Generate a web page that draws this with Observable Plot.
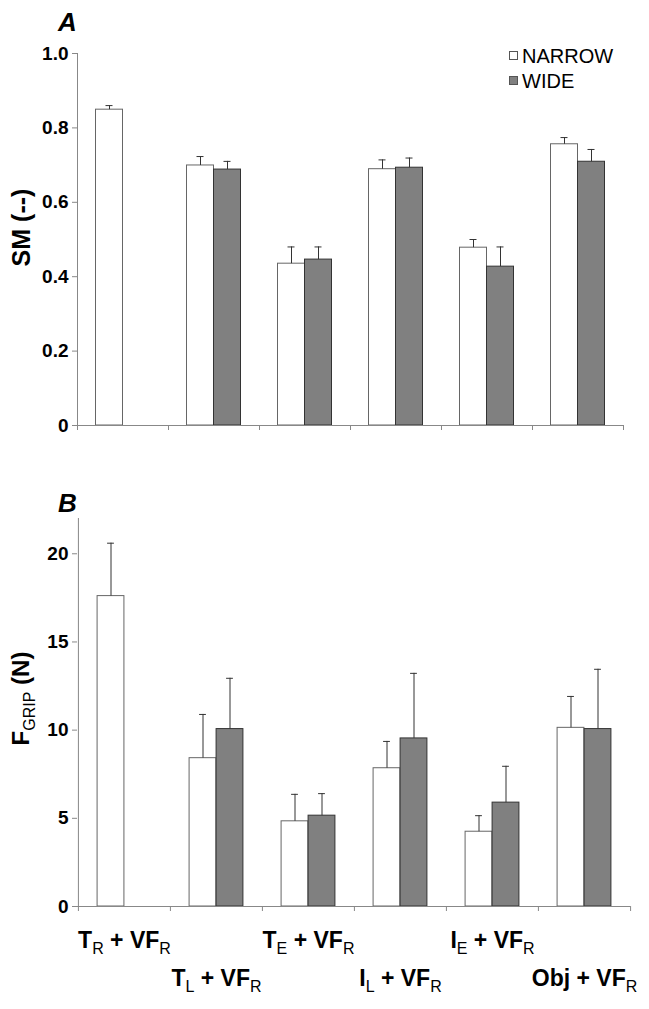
<!DOCTYPE html>
<html><head><meta charset="utf-8">
<script src="https://cdn.jsdelivr.net/npm/d3@7"></script>
<script src="https://cdn.jsdelivr.net/npm/@observablehq/plot@0.6"></script>
<style>
body{margin:0;background:#fff;font-family:"Liberation Sans",Arial,sans-serif;}
#chart{position:relative;width:649px;height:1009px;background:#fff;}
#chart svg{display:block;}
.legend{position:absolute;left:509px;top:44px;font-size:20px;line-height:25px;color:#000;}
.legend div{white-space:nowrap;}
.legend .sw{display:inline-block;width:7px;height:7px;border:1px solid #555;margin-right:4px;vertical-align:middle;position:relative;top:-2px;}
</style></head><body><div id="chart"></div>
<script>
const categories = ["T_{R} + VF_{R}", "T_{L} + VF_{R}", "T_{E} + VF_{R}", "I_{L} + VF_{R}", "I_{E} + VF_{R}", "Obj + VF_{R}"];
const series = ["NARROW", "WIDE"];
const smNarrow = [0.849, 0.699, 0.435, 0.689, 0.478, 0.756];
const smNarrowErr = [0.011, 0.024, 0.045, 0.025, 0.022, 0.018];
const smWide = [null, 0.688, 0.446, 0.693, 0.427, 0.709];
const smWideErr = [null, 0.022, 0.034, 0.026, 0.053, 0.033];
const gripNarrow = [17.6, 8.41, 4.83, 7.84, 4.24, 10.13];
const gripNarrowErr = [3.0, 2.48, 1.53, 1.52, 0.91, 1.78];
const gripWide = [null, 10.06, 5.15, 9.53, 5.89, 10.06];
const gripWideErr = [null, 2.88, 1.25, 3.69, 2.06, 3.39];
const smTicks = [0, 0.2, 0.4, 0.6, 0.8, 1.0];
const gripTicks = [0, 5, 10, 15, 20];

const FONT = "Liberation Sans, Arial, sans-serif";
const SVGNS = "http://www.w3.org/2000/svg";

function subscriptify(svg) {
  svg.querySelectorAll("text").forEach(t => {
    const s = t.textContent;
    if (!s.includes("_{")) return;
    const fs = parseFloat(getComputedStyle(t).fontSize) || 20;
    const subSize = Math.round(fs * 0.68);
    const shift = Math.round(fs * 0.25);
    const parts = s.split(/(_\{[^}]*\})/);
    while (t.firstChild) t.removeChild(t.firstChild);
    let shifted = false;
    for (const p of parts) {
      if (!p) continue;
      const ts = document.createElementNS(SVGNS, "tspan");
      if (p.startsWith("_{")) {
        ts.textContent = p.slice(2, -1);
        ts.setAttribute("font-size", subSize);
        ts.setAttribute("font-weight", "normal");
        ts.setAttribute("dy", shift);
        shifted = true;
      } else {
        ts.textContent = p;
        if (shifted) { ts.setAttribute("dy", -shift); shifted = false; }
      }
      t.appendChild(ts);
    }
  });
}

function panel(o) {
  const {values, errs, yDomain, yTicks, yFormat, yLabel, labelSize, labelDy, letter, letterDy, width, height, mt, mb, ml, mr, showLabels} = o;
  const rows = [];
  categories.forEach((c, i) => series.forEach((s, j) => {
    const v = values[j][i];
    if (v != null) rows.push({cat: c, series: s, value: v, top: v + errs[j][i]});
  }));
  const step = (width - ml - mr) / categories.length;
  const bw = 27, cap = 3.5;
  const marks = [];
  series.forEach((s, j) => {
    const data = rows.filter(d => d.series === s);
    const off = j === 0 ? -bw / 2 : bw / 2;
    marks.push(Plot.barY(data, {
      x: "cat", y: "value",
      insetLeft: j === 0 ? step / 2 - bw : step / 2,
      insetRight: j === 0 ? step / 2 : step / 2 - bw,
      fill: j === 0 ? "#ffffff" : "#808080",
      stroke: j === 0 ? "#666" : "#333", strokeWidth: 1
    }));
    marks.push(Plot.ruleX(data, {x: "cat", y1: "value", y2: "top", dx: off, stroke: "#333", strokeWidth: 1}));
    marks.push(Plot.tickY(data, {x: "cat", y: "top", insetLeft: step / 2 + off - cap, insetRight: step / 2 - off - cap, stroke: "#333", strokeWidth: 1}));
  });
  marks.push(Plot.ruleY([yDomain[0]], {stroke: "#888"}));
  marks.push(Plot.ruleX([categories[0]], {dx: -step / 2, stroke: "#888"}));
  marks.push(Plot.axisY({ticks: yTicks, tickFormat: yFormat, tickSize: 5, tickPadding: 4, fontSize: 19, fontWeight: "bold", stroke: "#888", fill: "#000", label: null}));
  marks.push(Plot.axisX({ticks: categories, tickFormat: () => "", tickSize: 5, dx: -step / 2, stroke: "#888", label: null}));
  marks.push(Plot.axisX({ticks: [categories[categories.length - 1]], tickFormat: () => "", tickSize: 5, dx: step / 2, stroke: "#888", label: null}));
  if (showLabels) {
    marks.push(Plot.axisX({ticks: categories.filter((_, i) => i % 2 === 0), tickSize: 0, tickPadding: 25, fontSize: 23, fontWeight: "bold", fill: "#000", label: null}));
    marks.push(Plot.axisX({ticks: categories.filter((_, i) => i % 2 === 1), tickSize: 0, tickPadding: 63, fontSize: 23, fontWeight: "bold", fill: "#000", label: null}));
  }
  marks.push(Plot.text([yLabel], {frameAnchor: "left", textAnchor: "middle", lineAnchor: "middle", dx: -56, dy: labelDy, rotate: -90, fontSize: labelSize, fontWeight: "bold", fill: "#000"}));
  marks.push(Plot.text([letter], {frameAnchor: "top-left", dx: -10, dy: letterDy, fontSize: 26, fontWeight: "bold", fontStyle: "italic", textAnchor: "middle", lineAnchor: "middle", fill: "#000"}));
  return Plot.plot({
    width, height, marginTop: mt, marginBottom: mb, marginLeft: ml, marginRight: mr,
    style: {fontFamily: FONT, background: "#fff", color: "#000", overflow: "visible"},
    x: {type: "band", domain: categories, padding: 0},
    y: {domain: yDomain},
    marks
  });
}

const chart = document.getElementById("chart");
const panelA = panel({
  values: [smNarrow, smWide], errs: [smNarrowErr, smWideErr],
  yDomain: [0, 1], yTicks: smTicks, yFormat: d => d === 0 ? "0" : d.toFixed(1),
  yLabel: "SM (--)", labelSize: 25, labelDy: -12, letter: "A", letterDy: -31,
  width: 649, height: 470, mt: 53, mb: 45, ml: 77, mr: 26, showLabels: false
});
const panelB = panel({
  values: [gripNarrow, gripWide], errs: [gripNarrowErr, gripWideErr],
  yDomain: [0, 22], yTicks: gripTicks, yFormat: d => String(d),
  yLabel: "F_{GRIP} (N)", labelSize: 24, labelDy: -14, letter: "B", letterDy: -15,
  width: 649, height: 539, mt: 48, mb: 103, ml: 77, mr: 19, showLabels: true
});
chart.appendChild(panelA);
chart.appendChild(panelB);
subscriptify(panelA);
subscriptify(panelB);
const legend = document.createElement("div");
legend.className = "legend";
series.forEach((s, j) => {
  const row = document.createElement("div");
  const sw = document.createElement("span");
  sw.className = "sw";
  sw.style.background = j === 0 ? "#fff" : "#808080";
  row.appendChild(sw);
  row.appendChild(document.createTextNode(s));
  legend.appendChild(row);
});
chart.appendChild(legend);
</script></body></html>
